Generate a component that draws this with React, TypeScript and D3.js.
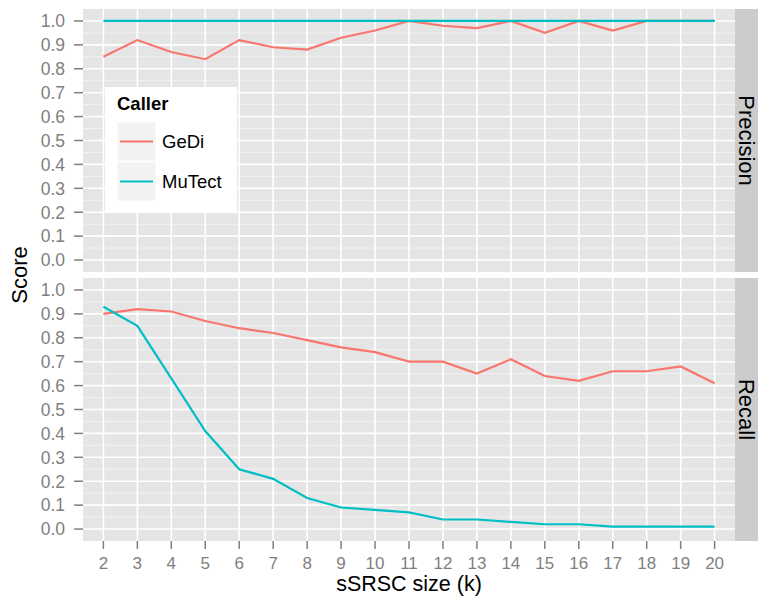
import React from 'react'
import * as d3 from 'd3'

const sizes = [2, 3, 4, 5, 6, 7, 8, 9, 10, 11, 12, 13, 14, 15, 16, 17, 18, 19, 20]
const precisionGeDi = [0.85, 0.92, 0.87, 0.84, 0.92, 0.89, 0.88, 0.93, 0.96, 1.0, 0.98, 0.97, 1.0, 0.95, 1.0, 0.96, 1.0, 1.0, 1.0]
const precisionMuTect = [1, 1, 1, 1, 1, 1, 1, 1, 1, 1, 1, 1, 1, 1, 1, 1, 1, 1, 1]
const recallGeDi = [0.90, 0.92, 0.91, 0.87, 0.84, 0.82, 0.79, 0.76, 0.74, 0.70, 0.70, 0.65, 0.71, 0.64, 0.62, 0.66, 0.66, 0.68, 0.61]
const recallMuTect = [0.93, 0.85, 0.63, 0.41, 0.25, 0.21, 0.13, 0.09, 0.08, 0.07, 0.04, 0.04, 0.03, 0.02, 0.02, 0.01, 0.01, 0.01, 0.01]
const yTicks = [0, 0.1, 0.2, 0.3, 0.4, 0.5, 0.6, 0.7, 0.8, 0.9, 1.0]
const yMinor = [0.05, 0.15, 0.25, 0.35, 0.45, 0.55, 0.65, 0.75, 0.85, 0.95]
const callers = ['GeDi', 'MuTect']
const colors = ['#F8766D', '#00BFC4']

const panels = [
  { label: 'Precision', series: [precisionGeDi, precisionMuTect] },
  { label: 'Recall', series: [recallGeDi, recallMuTect] },
]

const font = '"Liberation Sans", Arial, Helvetica, sans-serif'

export default function App () {
  const left = 83
  const right = 735
  const top = 9
  const panelH = 263
  const gap = 6
  const stripW = 23

  const x = d3.scaleLinear().domain([1.4, 20.6]).range([left, right])
  const y = d3.scaleLinear().domain([-0.05, 1.05]).range([panelH, 0])
  const line = d3.line<number>().x((d, i) => x(sizes[i])).y(d => y(d))

  const bottom = top + 2 * panelH + gap

  return (
    <svg width={758} height={599} style={{ position: 'absolute', left: 0, top: 0, fontFamily: font }}>
      <rect width={758} height={599} fill='#fff' />
      {panels.map((p, pi) => {
        const py = top + pi * (panelH + gap)
        return (
          <g key={p.label} transform={`translate(0,${py})`}>
            <rect x={left} y={0} width={right - left} height={panelH} fill='#E5E5E5' />
            {yMinor.map(t => (
              <line key={'m' + t} x1={left} x2={right} y1={y(t)} y2={y(t)} stroke='#F2F2F2' strokeWidth={1} />
            ))}
            {yTicks.map(t => (
              <line key={'h' + t} x1={left} x2={right} y1={y(t)} y2={y(t)} stroke='#fff' strokeWidth={1.6} />
            ))}
            {sizes.map(s => (
              <line key={'v' + s} x1={x(s)} x2={x(s)} y1={0} y2={panelH} stroke='#fff' strokeWidth={1.6} />
            ))}
            {p.series.map((vals, si) => (
              <path key={si} d={line(vals) || ''} fill='none' stroke={colors[si]} strokeWidth={2.2} />
            ))}
            {yTicks.map(t => (
              <g key={'yt' + t}>
                <line x1={left - 9} x2={left} y1={y(t)} y2={y(t)} stroke='#7F7F7F' strokeWidth={1.5} />
                <text x={left - 18} y={y(t)} dy='0.36em' textAnchor='end' fontSize={17.5} fill='#7F7F7F'>
                  {t.toFixed(1)}
                </text>
              </g>
            ))}
            <rect x={right} y={0} width={stripW} height={panelH} fill='#CCCCCC' />
            <text
              transform={`translate(${right + stripW / 2},${panelH / 2}) rotate(90)`}
              textAnchor='middle' dy='0.36em' fontSize={22} fill='#000'
            >
              {p.label}
            </text>
          </g>
        )
      })}
      {sizes.map(s => (
        <g key={'xt' + s}>
          <line x1={x(s)} x2={x(s)} y1={bottom} y2={bottom + 8} stroke='#7F7F7F' strokeWidth={1.5} />
          <text x={x(s)} y={bottom + 28} textAnchor='middle' fontSize={17} fill='#7F7F7F'>{s}</text>
        </g>
      ))}
      <text x={(left + right) / 2} y={591} textAnchor='middle' fontSize={21.5} fill='#000'>sSRSC size (k)</text>
      <text transform={`translate(27,${(top + bottom) / 2}) rotate(-90)`} textAnchor='middle' fontSize={22} fill='#000'>Score</text>

      <g transform='translate(105,87)'>
        <rect x={0} y={0} width={132} height={125} fill='#fff' />
        <text x={12} y={23} fontSize={18.5} fontWeight='bold' fill='#000'>Caller</text>
        {callers.map((c, i) => (
          <g key={c} transform={`translate(12,${35 + i * 40})`}>
            <rect x={0} y={0} width={39} height={39} fill='#F2F2F2' stroke='#fff' strokeWidth={1} />
            <line x1={3} x2={36} y1={19.5} y2={19.5} stroke={colors[i]} strokeWidth={2.2} />
            <text x={45} y={19.5} dy='0.36em' fontSize={18.5} fill='#000'>{c}</text>
          </g>
        ))}
      </g>
    </svg>
  )
}
